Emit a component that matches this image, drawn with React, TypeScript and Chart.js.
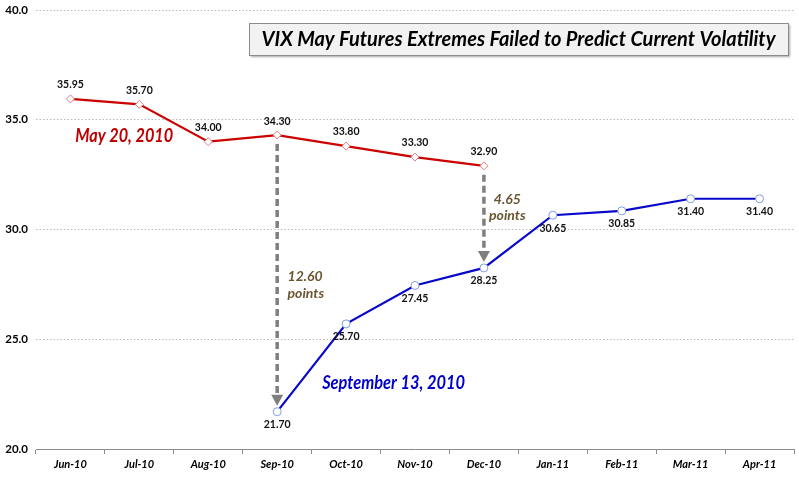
import React, { useEffect, useRef } from "react";
import { Chart, registerables } from "chart.js";

Chart.register(...registerables);

const categories = ["Jun-10", "Jul-10", "Aug-10", "Sep-10", "Oct-10", "Nov-10", "Dec-10", "Jan-11", "Feb-11", "Mar-11", "Apr-11"];
const may20Values = [35.95, 35.7, 34.0, 34.3, 33.8, 33.3, 32.9, null, null, null, null];
const sep13Values = [null, null, null, 21.7, 25.7, 27.45, 28.25, 30.65, 30.85, 31.4, 31.4];
const yMin = 20;
const yMax = 40;
const yStep = 5;

const titleText = "VIX May Futures Extremes Failed to Predict Current Volatility";
const may20Label = "May 20, 2010";
const sep13Label = "September 13, 2010";
// arrows: category index, start value, end value, text lines
const gapArrows = [
  { index: 3, from: 34.3, to: 21.7, lines: ["12.60", "points"], textIndex: 3.15, textValues: [27.88, 27.1], align: "left" },
  { index: 6, from: 32.9, to: 28.25, lines: ["4.65", "points"], textIndex: 6.34, textValues: [31.39, 30.66], align: "center" },
];

const FONT = "Lato, 'Open Sans', 'Liberation Sans', sans-serif";

const overlayPlugin = {
  id: "overlay",
  beforeDatasetsDraw(chart: any) {
    const { ctx, scales } = chart;
    const x = scales.x;
    const y = scales.y;
    ctx.save();
    for (const a of gapArrows) {
      const px = x.getPixelForValue(a.index);
      const y0 = y.getPixelForValue(a.from) + 9;
      const tip = y.getPixelForValue(a.to) - 6;
      const headH = 11;
      ctx.strokeStyle = "#7f7f7f";
      ctx.lineWidth = 3.5;
      ctx.setLineDash([7, 4]);
      ctx.beginPath();
      ctx.moveTo(px, y0);
      ctx.lineTo(px, tip - headH);
      ctx.stroke();
      ctx.setLineDash([]);
      ctx.fillStyle = "#7f7f7f";
      ctx.beginPath();
      ctx.moveTo(px - 6, tip - headH);
      ctx.lineTo(px + 6, tip - headH);
      ctx.lineTo(px, tip);
      ctx.closePath();
      ctx.fill();
    }
    ctx.restore();
  },
  afterDatasetsDraw(chart: any) {
    const { ctx, scales } = chart;
    const x = scales.x;
    const y = scales.y;
    ctx.save();
    // data labels
    ctx.font = `bold 10.5px ${FONT}`;
    ctx.fillStyle = "#111";
    ctx.textAlign = "center";
    ctx.textBaseline = "middle";
    may20Values.forEach((v, i) => {
      if (v == null) return;
      ctx.fillText(v.toFixed(2), x.getPixelForValue(i), y.getPixelForValue(v) - 14);
    });
    sep13Values.forEach((v, i) => {
      if (v == null) return;
      ctx.fillText(v.toFixed(2), x.getPixelForValue(i), y.getPixelForValue(v) + 13);
    });

    // series annotations
    ctx.font = `italic bold 18px ${FONT}`;
    ctx.fillStyle = "#c00000";
    ctx.fillText(may20Label, x.getPixelForValue(0.78), y.getPixelForValue(34.26), 98);
    ctx.fillStyle = "#0000cc";
    ctx.fillText(sep13Label, x.getPixelForValue(4.69), y.getPixelForValue(23.0), 143);

    // gap annotations
    ctx.font = `italic bold 14px ${FONT}`;
    ctx.fillStyle = "#6b5530";
    for (const a of gapArrows) {
      ctx.textAlign = a.align as CanvasTextAlign;
      a.lines.forEach((t, k) => {
        ctx.fillText(t, x.getPixelForValue(a.textIndex), y.getPixelForValue(a.textValues[k]));
      });
    }
    ctx.restore();
  },
  afterDraw(chart: any) {
    const { ctx, chartArea } = chart;
    ctx.save();
    const bx = 249;
    const by = 23;
    const bw = chartArea.right - 6 - bx;
    const bh = 32;
    ctx.shadowColor = "rgba(0,0,0,0.35)";
    ctx.shadowBlur = 2;
    ctx.shadowOffsetX = 1.5;
    ctx.shadowOffsetY = 1.5;
    ctx.fillStyle = "#f2f2f2";
    ctx.fillRect(bx, by, bw, bh);
    ctx.shadowColor = "transparent";
    ctx.strokeStyle = "#8c8c8c";
    ctx.lineWidth = 1;
    ctx.strokeRect(bx + 0.5, by + 0.5, bw, bh);
    ctx.font = `italic bold 20px ${FONT}`;
    ctx.fillStyle = "#000";
    ctx.textAlign = "center";
    ctx.textBaseline = "middle";
    ctx.fillText(titleText, bx + bw / 2, by + bh / 2 + 1, 522);
    ctx.restore();
  },
};

export default function App() {
  const ref = useRef<HTMLCanvasElement | null>(null);
  useEffect(() => {
    if (!ref.current) return;
    const chart = new Chart(ref.current, {
      type: "line",
      data: {
        labels: categories,
        datasets: [
          {
            label: may20Label,
            data: may20Values,
            borderColor: "#cc0000",
            borderWidth: 2.2,
            pointStyle: "rectRot",
            pointRadius: 4,
            pointBorderWidth: 1,
            pointBorderColor: "#e87c7c",
            pointBackgroundColor: "#ffffff",
            tension: 0,
            spanGaps: false,
          },
          {
            label: sep13Label,
            data: sep13Values,
            borderColor: "#0808cc",
            borderWidth: 2.2,
            pointStyle: "circle",
            pointRadius: 4,
            pointBorderWidth: 1,
            pointBorderColor: "#7f9fe0",
            pointBackgroundColor: "#ffffff",
            tension: 0,
            spanGaps: false,
          },
        ],
      },
      options: {
        responsive: false,
        animation: false,
        devicePixelRatio: 1,
        layout: { padding: { top: 0, right: 4, left: 0, bottom: 0 } },
        plugins: {
          legend: { display: false },
          tooltip: { enabled: false },
          title: { display: false },
        },
        scales: {
          x: {
            offset: true,
            grid: {
              offset: true,
              drawOnChartArea: false,
              drawTicks: true,
              tickLength: 5,
              color: "#8c8c8c",
            },
            border: { display: true, color: "#8c8c8c", width: 1 },
            ticks: {
              color: "#000",
              font: { family: FONT, size: 11, weight: "bold", style: "italic" },
              padding: 4,
              maxRotation: 0,
              autoSkip: false,
            },
            afterFit: (s: any) => {
              s.height = 31;
            },
          },
          y: {
            min: yMin,
            max: yMax,
            ticks: {
              stepSize: yStep,
              color: "#000",
              font: { family: FONT, size: 11.5, weight: "bold" },
              padding: 8,
              callback: (v: any) => Number(v).toFixed(1),
            },
            grid: { color: "#b8b8b8", drawTicks: false, lineWidth: 1 },
            border: { display: false, dash: [1.5, 2] },
            afterFit: (s: any) => {
              s.width = 36;
              s.paddingTop = 10;
              s.paddingBottom = 0;
            },
          },
        },
      },
      plugins: [overlayPlugin],
    });
    return () => chart.destroy();
  }, []);
  return (
    <div style={{ position: "absolute", left: 0, top: 0, width: 799, height: 480, background: "#fff" }}>
      <canvas ref={ref} width={799} height={480} style={{ display: "block" }} />
    </div>
  );
}
